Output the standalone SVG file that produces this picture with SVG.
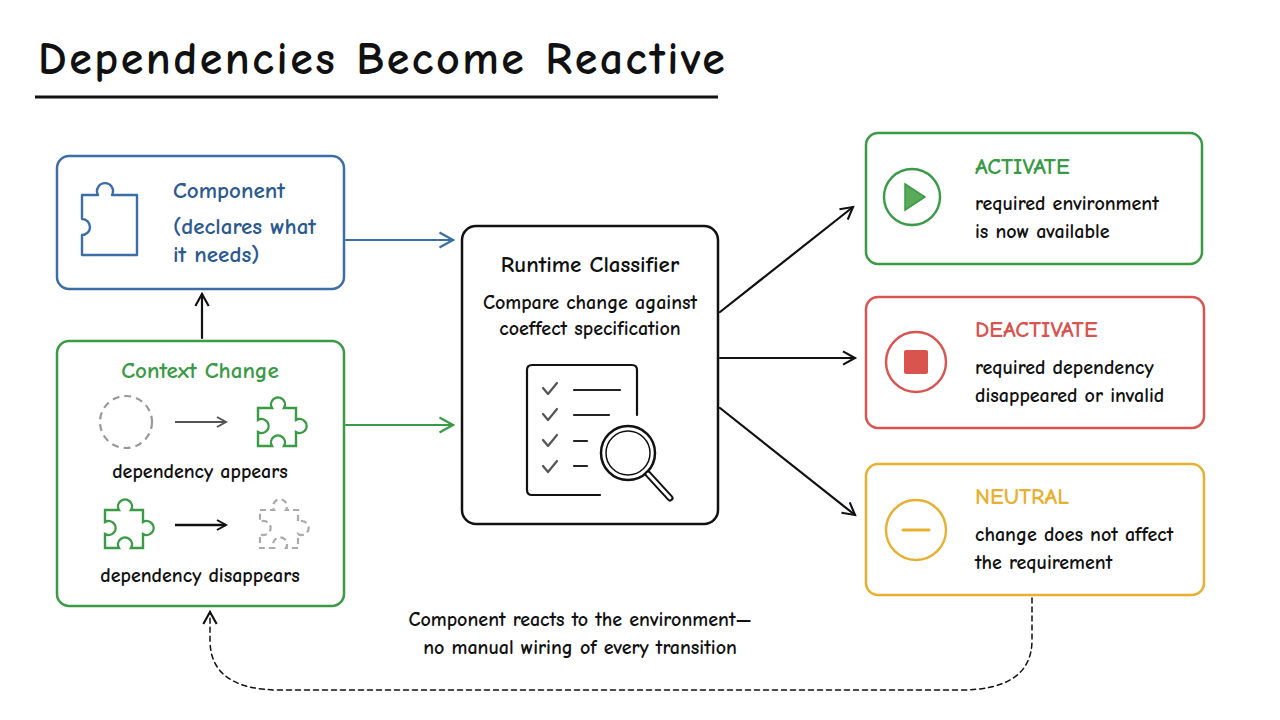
<svg xmlns="http://www.w3.org/2000/svg" width="1280" height="720" viewBox="0 0 1280 720">
<style>
text{font-family:"Comic Neue","DejaVu Sans","Liberation Sans",sans-serif;fill:#111;font-weight:bold}
.box{fill:#fff;stroke-width:2.5}
.t{font-size:23px}
.s{font-size:20px}
.ln{fill:none;stroke-linecap:round;stroke-linejoin:round}
</style>
<defs>
<path id="pz" d="M10,15 H22 a8,8 0 1 1 14,0 H50 V55 H10 V42 a8,8 0 1 1 0,-14 Z"/>
<path id="pz2" d="M8,12 H22 a7,7 0 1 1 12,0 H46 V24 a7,7 0 1 1 0,12 V50 H34 a7,7 0 1 0 -12,0 H8 V36 a7,7 0 1 0 0,-12 Z"/>
<marker id="ah" viewBox="0 0 12 12" refX="10" refY="6" markerWidth="12" markerHeight="12" markerUnits="userSpaceOnUse" orient="auto"><path d="M1,1 L10,6 L1,11" fill="none" stroke="context-stroke" stroke-width="2"/></marker>
<marker id="ahb" viewBox="0 0 12 12" refX="10" refY="6" markerWidth="16" markerHeight="16" markerUnits="userSpaceOnUse" orient="auto"><path d="M1,1 L10,6 L1,11" fill="none" stroke="#111" stroke-width="1.6"/></marker>
<marker id="ahl" viewBox="0 0 12 12" refX="10" refY="6" markerWidth="18" markerHeight="18" markerUnits="userSpaceOnUse" orient="auto"><path d="M1,1 L10,6 L1,11" fill="none" stroke="#3a6ea5" stroke-width="1.5"/></marker>
<marker id="ahg" viewBox="0 0 12 12" refX="10" refY="6" markerWidth="18" markerHeight="18" markerUnits="userSpaceOnUse" orient="auto"><path d="M1,1 L10,6 L1,11" fill="none" stroke="#3a9a45" stroke-width="1.5"/></marker>
</defs>
<rect width="1280" height="720" fill="#fff"/>
<text x="38" y="74" font-size="46" letter-spacing="2.5">Dependencies Become Reactive</text>
<line x1="35" y1="97" x2="718" y2="97" stroke="#111" stroke-width="3"/>

<g id="connectors" class="ln" stroke-width="2.2">
<line x1="202" y1="338" x2="202" y2="294" stroke="#111" marker-end="url(#ahb)"/>
<line x1="346" y1="240" x2="453" y2="240" stroke="#3a6ea5" marker-end="url(#ahl)"/>
<line x1="346" y1="425" x2="453" y2="425" stroke="#3a9a45" marker-end="url(#ahg)"/>
<line x1="720" y1="312" x2="853" y2="207" stroke="#111" marker-end="url(#ahb)"/>
<line x1="720" y1="358" x2="855" y2="358" stroke="#111" marker-end="url(#ahb)"/>
<line x1="720" y1="408" x2="855" y2="515" stroke="#111" marker-end="url(#ahb)"/>
<path d="M1032,598 V640 Q1032,690 960,690 H280 Q210,690 210,640 V612" stroke="#111" stroke-width="1.5" stroke-dasharray="5,4" marker-end="url(#ahb)"/>
</g>
<g id="note">
<text x="580" y="626" class="s" text-anchor="middle">Component reacts to the environment—</text>
<text x="580" y="654" class="s" text-anchor="middle">no manual wiring of every transition</text>
</g>

<g id="component">
<rect class="box" x="57" y="156" width="287" height="133" rx="12" stroke="#3a6ea5"/>
<path d="M82,195 H98 a8,8 0 1 1 14,0 H137 V255 H82 V235 a8,8 0 1 0 0,-16 Z" fill="none" stroke="#3a6ea5" stroke-width="2.4" stroke-linejoin="round"/>
<text x="173" y="198" class="t" style="fill:#2c5a8f">Component</text>
<text x="173" y="234" class="t" style="fill:#2c5a8f">(declares what</text>
<text x="173" y="262" class="t" style="fill:#2c5a8f">it needs)</text>
</g>

<g id="context">
<rect class="box" x="57" y="341" width="287" height="265" rx="12" stroke="#3a9a45"/>
<text x="200" y="378" class="t" text-anchor="middle" style="fill:#3a9a45">Context Change</text>
<circle cx="126" cy="422" r="26" fill="none" stroke="#999" stroke-width="2.2" stroke-dasharray="7,5"/>
<line x1="175" y1="422" x2="226" y2="422" stroke="#555" stroke-width="2" marker-end="url(#ah)"/>
<use href="#pz2" transform="translate(250,396)" fill="none" stroke="#3a9a45" stroke-width="2.4"/>
<text x="200" y="478" class="s" text-anchor="middle">dependency appears</text>
<use href="#pz2" transform="translate(97,498)" fill="none" stroke="#3a9a45" stroke-width="2.4"/>
<line x1="175" y1="525" x2="226" y2="525" stroke="#111" stroke-width="2.6" marker-end="url(#ah)"/>
<use href="#pz2" transform="translate(252,498)" fill="none" stroke="#aaa" stroke-width="2.2" stroke-dasharray="6,4"/>
<text x="200" y="582" class="s" text-anchor="middle">dependency disappears</text>
</g>

<g id="classifier">
<rect class="box" x="462" y="226" width="256" height="298" rx="14" stroke="#111"/>
<text x="590" y="272" class="t" text-anchor="middle">Runtime Classifier</text>
<text x="590" y="309" class="s" text-anchor="middle">Compare change against</text>
<text x="590" y="335" class="s" text-anchor="middle">coeffect specification</text>
<g class="ln" stroke-width="2.2">
<path d="M637,415 V370 Q637,365 632,365 H532 Q527,365 527,370 V490 Q527,495 532,495 H600" stroke="#111"/>
<path d="M543,388 l5,6 l9,-11 M543,414 l5,6 l9,-11 M543,440 l5,6 l9,-11 M543,466 l5,6 l9,-11" stroke="#555"/>
<path d="M574,390 H620 M574,415 H609 M574,441 H587 M574,466 H587" stroke="#222"/>
<circle cx="628" cy="453" r="27" stroke="#111" stroke-width="2.5"/>
<circle cx="628" cy="453" r="22" stroke="#111" stroke-width="1.5"/>
<line x1="648" y1="474" x2="670" y2="498" stroke="#111" stroke-width="7"/>
<line x1="648" y1="474" x2="670" y2="498" stroke="#fff" stroke-width="3"/>
</g>
</g>

<g id="activate">
<rect class="box" x="866" y="133" width="336" height="131" rx="12" stroke="#3a9a45"/>
<circle cx="912" cy="197" r="28" fill="none" stroke="#3a9a45" stroke-width="2.4"/>
<path d="M905,184 L925,197 L905,210 Z" fill="#5aaa5a" stroke="#3a9a45" stroke-width="1.5"/>
<text x="975" y="174" class="t" style="fill:#3a9a45">ACTIVATE</text>
<text x="975" y="210" class="s">required environment</text>
<text x="975" y="238" class="s">is now available</text>
</g>

<g id="deactivate">
<rect class="box" x="866" y="297" width="338" height="131" rx="12" stroke="#d9534f"/>
<circle cx="916" cy="362" r="30" fill="none" stroke="#d9534f" stroke-width="2.4"/>
<rect x="904" y="350" width="24" height="24" rx="2" fill="#d9534f"/>
<text x="975" y="337" class="t" style="fill:#d9534f">DEACTIVATE</text>
<text x="975" y="374" class="s">required dependency</text>
<text x="975" y="402" class="s">disappeared or invalid</text>
</g>

<g id="neutral">
<rect class="box" x="866" y="464" width="338" height="131" rx="12" stroke="#e8b030"/>
<circle cx="916" cy="530" r="30" fill="none" stroke="#e8b030" stroke-width="2.4"/>
<line x1="903" y1="530" x2="929" y2="530" stroke="#e8b030" stroke-width="3" stroke-linecap="round"/>
<text x="975" y="504" class="t" style="fill:#e8b030">NEUTRAL</text>
<text x="975" y="541" class="s">change does not affect</text>
<text x="975" y="569" class="s">the requirement</text>
</g>
</svg>
